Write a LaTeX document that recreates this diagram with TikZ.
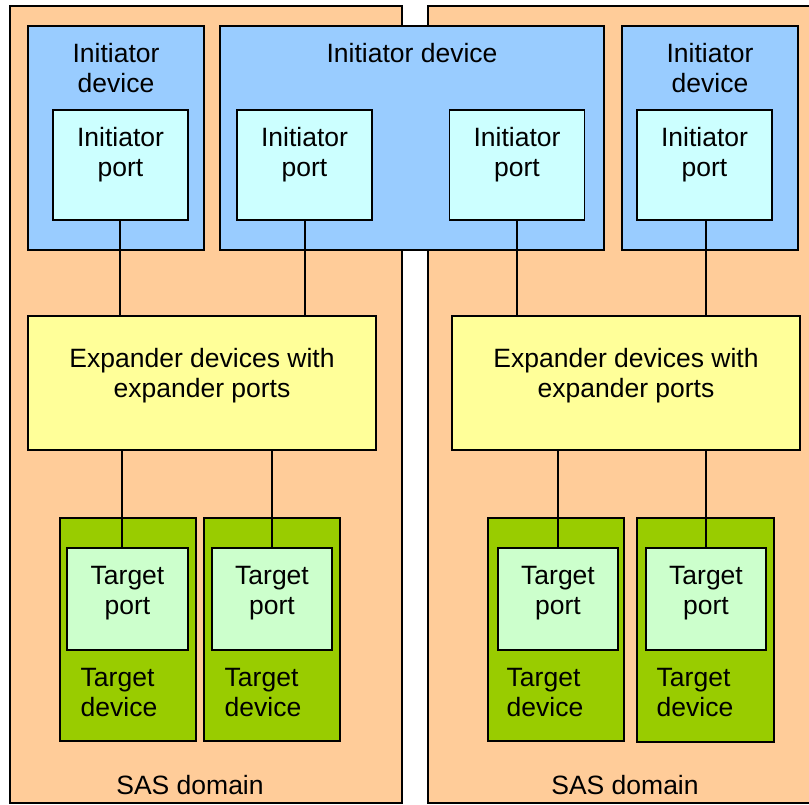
\documentclass[tikz,border=0pt]{standalone}
\usepackage{fontspec}
\setmainfont{Liberation Sans}
\usepackage{xcolor}
\usetikzlibrary{positioning}

\definecolor{domainfill}{HTML}{FFCC99}
\definecolor{idevfill}{HTML}{99CCFF}
\definecolor{iportfill}{HTML}{CCFFFF}
\definecolor{expfill}{HTML}{FFFF99}
\definecolor{tdevfill}{HTML}{99CC00}
\definecolor{tportfill}{HTML}{CCFFCC}

\begin{document}
\begin{tikzpicture}[x=1pt, y=-1pt,
    box/.style={rectangle, draw=black, line width=1.2pt, inner sep=0pt},
    sasbox/.style={box, fill=domainfill, minimum height=797pt},
    idev/.style={box, fill=idevfill, minimum height=224pt},
    iport/.style={box, fill=iportfill, minimum width=135pt, minimum height=110pt},
    expander/.style={box, fill=expfill, minimum width=348pt, minimum height=134pt},
    tdev/.style={box, fill=tdevfill, minimum width=136pt, minimum height=223pt},
    tport/.style={box, fill=tportfill, minimum width=120pt, minimum height=102pt},
    txt/.style={align=center, inner sep=0pt, font=\fontsize{26.5}{30}\selectfont},
    link/.style={draw=black, line width=1.3pt}]

    \useasboundingbox (0,0) rectangle (809,804);
    \clip (0,0) rectangle (809,804);

    % SAS domains
    \node [sasbox, minimum width=392pt] at (206,404.5) (dom1) {};
    \node [sasbox, minimum width=387pt] at (621.5,404.5) (dom2) {};
    \node [txt] at (190,785) (sas1) {SAS domain};
    \node [txt] at (625,785) (sas2) {SAS domain};

    % initiator devices and ports
    \node [idev, minimum width=176pt] at (116,138) (idev1) {};
    \node [idev, minimum width=384pt] at (412,138) (idev2) {};
    \node [idev, minimum width=176pt] at (710,138) (idev3) {};
    \node [txt, below=18pt of idev1.north] {Initiator\\device};
    \node [txt, below=18pt of idev2.north] {Initiator device};
    \node [txt, below=18pt of idev3.north] {Initiator\\device};

    \node [iport] at (120.5,165) (ip1) {};
    \node [iport] at (304.5,165) (ip2) {};
    \node [iport] at (517,165) (ip3) {};
    \node [iport] at (704.5,165) (ip4) {};
    \foreach \p in {ip1,ip2,ip3,ip4}
        \node [txt, below=18pt of \p.north] {Initiator\\port};

    % expanders
    \node [expander] at (202,383) (exp1) {};
    \node [expander] at (626,383) (exp2) {};
    \node [txt] at (202,376) {Expander devices with\\expander ports};
    \node [txt] at (626,376) {Expander devices with\\expander ports};

    % target devices and ports
    \node [tdev] at (128,629.5) (td1) {};
    \node [tdev] at (272,629.5) (td2) {};
    \node [tdev] at (556,629.5) (td3) {};
    \node [tdev, minimum width=137pt, minimum height=224pt] at (705.5,630) (td4) {};
    \foreach \d/\x in {td1/119,td2/263,td3/545,td4/695}
        \node [txt, align=left] at (\x,693) {Target\\device};

    \node [tport, minimum width=121pt] at (127.5,599) (tp1) {};
    \node [tport] at (272,599) (tp2) {};
    \node [tport] at (558,599) (tp3) {};
    \node [tport] at (706,599) (tp4) {};
    \foreach \p in {tp1,tp2,tp3,tp4}
        \node [txt, below=19pt of \p.north] {Target\\port};

    % links
    \draw [link] ([xshift=-0.5pt]ip1.south) -- ([xshift=-0.5pt]ip1.south |- exp1.north);
    \draw [link] ([xshift=0.5pt]ip2.south) -- ([xshift=0.5pt]ip2.south |- exp1.north);
    \draw [link] (ip3.south) -- (ip3.south |- exp2.north);
    \draw [link] ([xshift=1.5pt]ip4.south) -- ([xshift=1.5pt]ip4.south |- exp2.north);
    \draw [link] ([xshift=-5.5pt]tp1.north |- exp1.south) -- ([xshift=-5.5pt]tp1.north);
    \draw [link] (tp2.north |- exp1.south) -- (tp2.north);
    \draw [link] (tp3.north |- exp2.south) -- (tp3.north);
    \draw [link] (tp4.north |- exp2.south) -- (tp4.north);
\end{tikzpicture}
\end{document}
